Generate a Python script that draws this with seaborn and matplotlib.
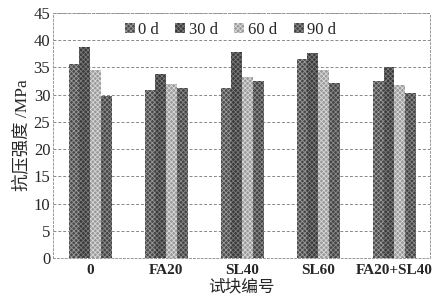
import matplotlib
matplotlib.use("Agg")
import matplotlib.pyplot as plt
import seaborn as sns
import pandas as pd

categories = ["0", "FA20", "SL40", "SL60", "FA20+SL40"]
ages = ["0 d", "30 d", "60 d", "90 d"]
v0 = [35.6, 30.9, 31.2, 36.5, 32.6]
v30 = [38.7, 33.8, 37.8, 37.7, 35.1]
v60 = [34.6, 31.9, 33.2, 34.5, 31.7]
v90 = [29.8, 31.2, 32.6, 32.1, 30.4]
yticks = [0, 5, 10, 15, 20, 25, 30, 35, 40, 45]

rows = []
for age, vals in zip(ages, [v0, v30, v60, v90]):
    for c, v in zip(categories, vals):
        rows.append({"cat": c, "age": age, "val": v})
df = pd.DataFrame(rows)

sns.set_style("white")
plt.rcParams["font.family"] = ["Liberation Serif", "Noto Sans CJK SC"]
plt.rcParams["hatch.linewidth"] = 0.6

fig = plt.figure(figsize=(4.42, 3.02), dpi=100)
ax = fig.add_axes([0.12, 0.145, 0.853, 0.812])

face = ["#4a4a4a", "#3a3a3a", "#9a9a9a", "#444444"]
hatchc = ["#9a9a9a", "#7a7a7a", "#d8d8d8", "#8a8a8a"]
sns.barplot(data=df, x="cat", y="val", hue="age", hue_order=ages, order=categories,
            palette=face, width=0.57, ax=ax, saturation=1, legend=False)

for i, cont in enumerate(ax.containers):
    for p in cont:
        p.set_hatch("xxxxxxx")
        p.set_edgecolor(hatchc[i])
        p.set_linewidth(0)

ax.set_ylim(0, 45)
ax.set_xlim(-0.49, 4.47)
ax.set_yticks(yticks)
ax.set_yticklabels([str(t) for t in yticks], fontsize=12)
ax.set_xticks(range(len(categories)))
ax.set_xticklabels(categories, fontsize=11, fontweight="bold")
ax.tick_params(axis="both", length=0, pad=2)
ax.tick_params(axis="x", pad=4)
ax.yaxis.grid(True, linestyle=(0, (3, 2)), color="#888888", linewidth=0.7)
ax.set_axisbelow(True)
for s in ax.spines.values():
    s.set_linestyle((0, (2, 2)))
    s.set_color("#999999")
    s.set_linewidth(0.7)

ax.set_ylabel("抗压强度 /MPa", fontsize=12.5, family=["Liberation Serif", "Noto Sans CJK SC"], labelpad=2)
ax.set_xlabel("试块编号", fontsize=12, family=["Liberation Serif", "Noto Sans CJK SC"], labelpad=2)

from matplotlib.patches import Patch
handles = [Patch(facecolor=face[i], edgecolor=hatchc[i], hatch="xxxxxxx", linewidth=0) for i in range(4)]
ax.legend(handles, ages, loc="upper center", bbox_to_anchor=(0.47, 1.025), ncol=4, frameon=False,
          fontsize=12, handlelength=0.6, handleheight=0.6, handletextpad=0.2, columnspacing=1.0)

fig.savefig("out.png", dpi=100)
